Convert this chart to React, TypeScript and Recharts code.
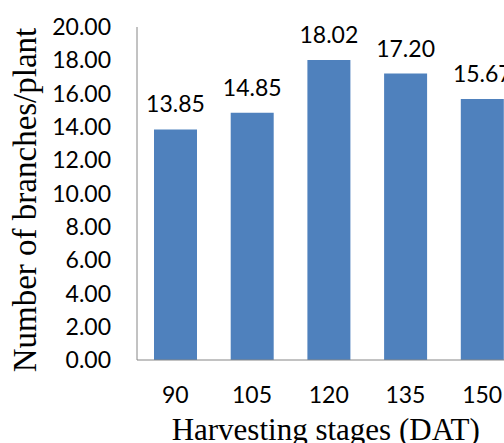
import { BarChart, Bar, XAxis, YAxis, LabelList, Label } from 'recharts';

const stages = ['90', '105', '120', '135', '150'];
const branches = [13.85, 14.85, 18.02, 17.2, 15.67];
const yTicks = [0, 2, 4, 6, 8, 10, 12, 14, 16, 18, 20];

const data = stages.map((s, i) => ({ stage: s, value: branches[i] }));

const numFont = 'Lato, "Open Sans", sans-serif';
const serif = '"Liberation Serif", "Times New Roman", serif';

function YTitle({ viewBox }: any) {
  const cx = viewBox.x + 36;
  const cy = viewBox.y + viewBox.height / 2 + 6.5;
  return (
    <text
      x={cx}
      y={cy}
      transform={`rotate(-90, ${cx}, ${cy})`}
      textAnchor="middle"
      fontFamily={serif}
      fontSize={33}
      fill="#000"
    >
      Number of branches/plant
    </text>
  );
}

function XTitle({ viewBox }: any) {
  return (
    <text
      x={viewBox.x + viewBox.width / 2 - 3}
      y={viewBox.y + 80}
      textAnchor="middle"
      fontFamily={serif}
      fontSize={31}
      fill="#000"
    >
      Harvesting stages (DAT)
    </text>
  );
}

export default function App() {
  return (
    <div style={{ position: 'fixed', left: 0, top: 0, width: 504, height: 443, overflow: 'hidden', background: '#fff' }}>
      <BarChart
        width={540}
        height={470}
        data={data}
        margin={{ top: 27, right: 19.5, left: 0, bottom: 30 }}
      >
        <XAxis
          dataKey="stage"
          height={80}
          stroke="#868686"
          tickLine={false}
          tickSize={0}
          tickMargin={27}
          tick={{ fill: '#000', fontSize: 23, fontFamily: numFont }}
        >
          <Label content={XTitle} />
        </XAxis>
        <YAxis
          width={137}
          domain={[0, 20]}
          ticks={yTicks}
          interval={0}
          stroke="#868686"
          tickLine={false}
          tickSize={0}
          tickMargin={26}
          tickFormatter={(v: number) => v.toFixed(2)}
          tick={{ fill: '#000', fontSize: 23, fontFamily: numFont }}
        >
          <Label content={YTitle} />
        </YAxis>
        <Bar dataKey="value" fill="#4F81BD" barSize={43} isAnimationActive={false}>
          <LabelList
            dataKey="value"
            position="top"
            offset={17}
            formatter={(v: any) => Number(v).toFixed(2)}
            style={{ fill: '#000', fontSize: 23, fontFamily: numFont }}
          />
        </Bar>
      </BarChart>
    </div>
  );
}
